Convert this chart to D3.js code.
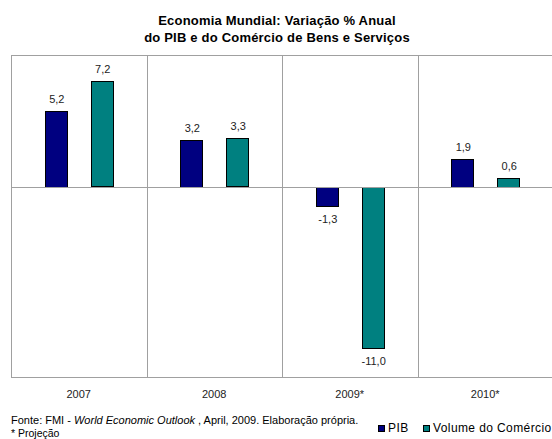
<!DOCTYPE html>
<html lang="pt">
<head>
<meta charset="UTF-8" />
<title>Economia Mundial</title>
<script src="https://d3js.org/d3.v7.min.js"></script>
<style>
  body { margin: 0; background: #fff; }
  text { font-family: "Liberation Sans", Arial, sans-serif; fill: #000; }
</style>
</head>
<body>
<svg id="chart" width="552" height="439"></svg>
<script>
const years = ["2007", "2008", "2009*", "2010*"];
const pib = [5.2, 3.2, -1.3, 1.9];
const comercio = [7.2, 3.3, -11.0, 0.6];
const seriesNames = ["PIB", "Volume do Comércio"];
const seriesColors = ["#000080", "#008080"];

const svg = d3.select("#chart");
const margins = { top: 55, right: 0, bottom: 62, left: 11 };
const width = +svg.attr("width");
const height = +svg.attr("height");
const plotW = width - margins.left - margins.right;
const plotH = height - margins.top - margins.bottom;

// excel-style number: comma decimal, plain hyphen
const fmt = v => v.toFixed(1).replace(".", ",");

const x = d3.scaleBand().domain(years).range([0, plotW + 1]);
const y = d3.scaleLinear().domain([-13, 9]).range([plotH, 0]);

// title
const title = svg.append("text")
  .attr("x", 277).attr("y", 25)
  .attr("text-anchor", "middle")
  .style("font-size", "13px").style("font-weight", "bold")
  .style("letter-spacing", "0.2px");
title.append("tspan").attr("x", 277).attr("dy", 0).text("Economia Mundial: Variação % Anual");
title.append("tspan").attr("x", 277).attr("dy", 17).text("do PIB e do Comércio de Bens e Serviços");

const plot = svg.append("g").attr("transform", `translate(${margins.left},${margins.top})`);

// frame and category separators
plot.append("rect")
  .attr("x", 0.5).attr("y", 0.5)
  .attr("width", plotW).attr("height", plotH)
  .attr("fill", "none").attr("stroke", "#a0a0a0");

plot.selectAll("line.sep").data(years.slice(1)).join("line")
  .attr("class", "sep")
  .attr("x1", d => Math.round(x(d)) + 0.5).attr("x2", d => Math.round(x(d)) + 0.5)
  .attr("y1", 0).attr("y2", plotH)
  .attr("stroke", "#a0a0a0");

// bars
const bw = x.bandwidth();
const offsets = [34 / 136, 80 / 136];
const barW = 22 / 136;
const rows = years.map((yr, i) => [
  { yr, v: pib[i], s: 0 },
  { yr, v: comercio[i], s: 1 }
]).flat();

plot.selectAll("rect.bar").data(rows).join("rect")
  .attr("class", "bar")
  .attr("x", d => Math.round(x(d.yr) + offsets[d.s] * bw) + 0.5)
  .attr("y", d => Math.round(y(Math.max(0, d.v))) + 0.5)
  .attr("width", Math.round(barW * bw))
  .attr("height", d => Math.round(Math.abs(y(d.v) - y(0))))
  .attr("fill", d => seriesColors[d.s])
  .attr("stroke", "#000").attr("stroke-width", 1);

// zero line
plot.append("line")
  .attr("x1", 0).attr("x2", plotW)
  .attr("y1", Math.round(y(0)) + 0.5).attr("y2", Math.round(y(0)) + 0.5)
  .attr("stroke", "#a0a0a0");

// value labels
plot.selectAll("text.val").data(rows).join("text")
  .attr("class", "val")
  .attr("x", d => x(d.yr) + offsets[d.s] * bw + barW * bw / 2 + 1)
  .attr("y", d => d.v >= 0 ? y(d.v) - 8 : y(d.v) + 17)
  .attr("text-anchor", "middle")
  .style("font-size", "11px").style("fill", "#222")
  .text(d => fmt(d.v));

// category labels
const xAxis = svg.append("g")
  .attr("transform", `translate(${margins.left},${margins.top + plotH})`);
xAxis.selectAll("text").data(years).join("text")
  .attr("x", d => x(d) + bw / 2)
  .attr("y", 21)
  .attr("text-anchor", "middle")
  .style("font-size", "11px").style("fill", "#222")
  .text(d => d);

// source notes
const note = svg.append("text").attr("x", 11).attr("y", 424).style("font-size", "11px");
note.append("tspan").text("Fonte: FMI - ");
note.append("tspan").style("font-style", "italic").text("World Economic Outlook");
note.append("tspan").text(" , April, 2009. Elaboração própria.");
svg.append("text").attr("x", 11).attr("y", 437).style("font-size", "10.5px").text("* Projeção");

// legend
const legendX = [378, 423];
const legend = svg.append("g");
seriesNames.forEach((name, i) => {
  legend.append("rect")
    .attr("x", legendX[i] + 0.5).attr("y", 425.5)
    .attr("width", 6).attr("height", 6)
    .attr("fill", seriesColors[i]).attr("stroke", "#000");
  legend.append("text")
    .attr("x", legendX[i] + 10).attr("y", 432)
    .style("font-size", "12px").style("letter-spacing", "0.4px")
    .text(name);
});
</script>
</body>
</html>
